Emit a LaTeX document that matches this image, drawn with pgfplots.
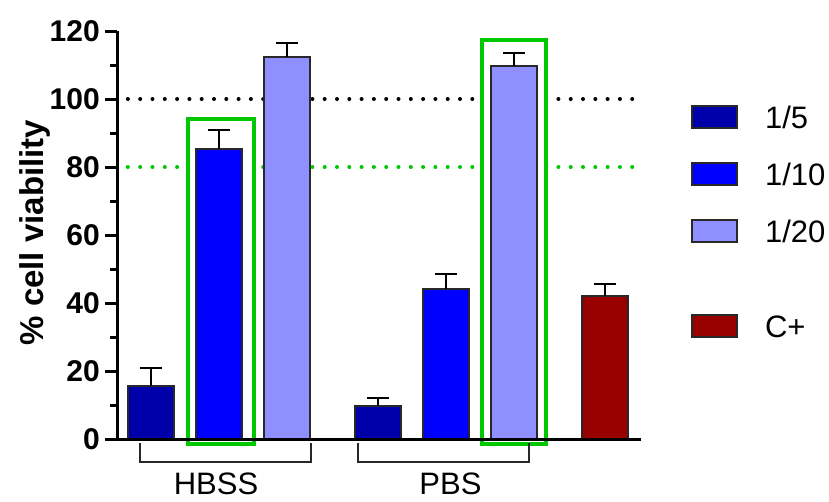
\documentclass[border=0pt]{standalone}
\usepackage{fontspec}
\setmainfont{Liberation Sans}
\usepackage{pgfplots}
\pgfplotsset{compat=1.18}
\definecolor{c5}{RGB}{0,0,170}
\definecolor{c10}{RGB}{0,0,255}
\definecolor{c20}{RGB}{143,143,255}
\definecolor{cp}{RGB}{153,0,0}
\definecolor{gr}{RGB}{0,200,0}
\definecolor{edge}{RGB}{40,40,40}
\pgfplotsset{
  boxlegend/.style={legend image code/.code={\draw[##1,line width=2pt,draw=edge] (0pt,-11pt) rectangle (45pt,11pt);}},
  mybar/.style={ybar, bar shift=0pt, bar width=46pt, draw=edge, line width=2pt, boxlegend,
    error bars/y dir=plus, error bars/y explicit,
    error bars/error bar style={line width=2pt, black},
    error bars/error mark options={rotate=90, line width=2pt, mark size=11pt, black}},
}
\begin{document}
\begin{tikzpicture}
\begin{axis}[
  x=68pt, y=3.4pt,
  xmin=0.5, xmax=8.206, ymin=0, ymax=120,
  clip=false,
  axis on top,
  axis x line*=bottom, axis y line*=left,
  axis line style={line width=3pt, black},
  ytick={0,20,...,120},
  minor y tick num=1,
  xtick=\empty,
  tick align=outside,
  major tick length=12pt, minor tick length=7pt,
  tick style={line width=3pt, black},
  yticklabel style={font=\fontsize{30}{30}\selectfont\bfseries, inner sep=0pt, xshift=-5pt},
  /pgf/number format/assume math mode=true,
  ylabel={\% cell viability},
  ylabel style={font=\fontsize{33}{33}\selectfont\bfseries, at={(axis description cs:-0.1412,0.5058)}, anchor=base},
  legend style={draw=none, fill=none, inner sep=0pt, outer sep=0pt,
    at={(axis cs:8.941,98.2)}, anchor=north west,
    row sep=33pt, column sep=27pt,
    font=\fontsize{31}{31}\selectfont,
    nodes={inner sep=0pt, text height=22pt, text depth=0pt}},
  legend cell align=left,
]
% reference lines
\addplot[forget plot, black, line width=4pt, line cap=round, dash pattern=on 0pt off 12.3pt]
  coordinates {(0.66,100) (8.09,100)};
\addplot[forget plot, gr, line width=4pt, line cap=round, dash pattern=on 0pt off 12.3pt]
  coordinates {(0.66,80) (8.09,80)};
% highlight boxes
\addplot[forget plot, draw=gr, fill=white, line width=4pt]
  coordinates {(1.551,-1.5) (1.551,94.1) (2.515,94.1) (2.515,-1.5)} -- cycle;
\addplot[forget plot, draw=gr, fill=white, line width=4pt]
  coordinates {(5.868,-1.5) (5.868,117.4) (6.809,117.4) (6.809,-1.5)} -- cycle;
% bars
\addplot[mybar, fill=c5] coordinates {(1,15.7) +- (0,5.1) (4.34,9.8) +- (0,2.3)};
\addlegendentry{1/5}
\addplot[mybar, fill=c10] coordinates {(2,85.3) +- (0,5.5) (5.34,44.0) +- (0,4.6)};
\addlegendentry{1/10}
\addplot[mybar, fill=c20] coordinates {(3,112.3) +- (0,4.3) (6.34,109.6) +- (0,3.9)};
\addlegendentry{1/20}
\addlegendimage{legend image code/.code={}}
\addlegendentry[text height=5pt]{}
\addplot[mybar, fill=cp] coordinates {(7.68,42.1) +- (0,3.6)};
\addlegendentry{C+}
% group brackets
\addplot[forget plot, edge, line width=1.5pt]
  coordinates {(0.838,-1.2) (0.838,-6.8) (3.353,-6.8) (3.353,-1.2)};
\addplot[forget plot, edge, line width=1.5pt]
  coordinates {(4.044,-1.2) (4.044,-6.8) (6.559,-6.8) (6.559,-1.2)};
\node[font=\fontsize{31}{31}\selectfont, anchor=base, inner sep=0pt] at (axis cs:1.956,-16.3) {HBSS};
\node[font=\fontsize{31}{31}\selectfont, anchor=base, inner sep=0pt] at (axis cs:5.404,-16.3) {PBS};
\path (axis cs:-1.2206,129.12) coordinate (bbtl);
\path (axis cs:10.97,-18.24) coordinate (bbbr);
\end{axis}
\pgfresetboundingbox
\useasboundingbox (bbtl) rectangle (bbbr);
\end{tikzpicture}
\end{document}
